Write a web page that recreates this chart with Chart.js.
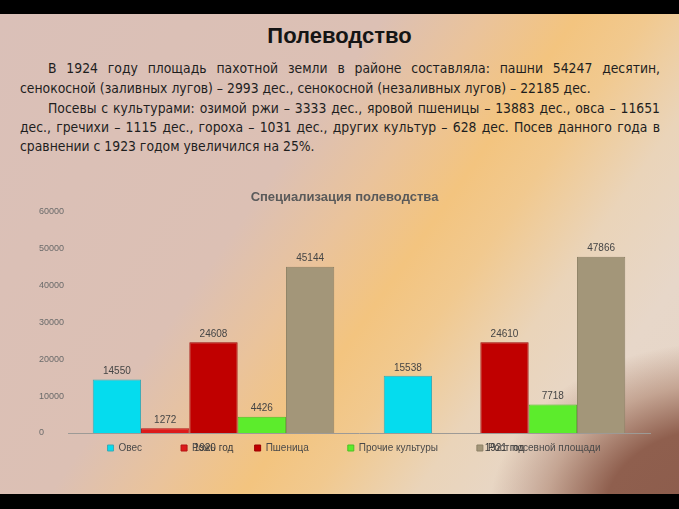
<!DOCTYPE html>
<html lang="ru">
<head>
<meta charset="utf-8">
<title>Полеводство</title>
<script src="https://cdn.jsdelivr.net/npm/chart.js@4.4.1/dist/chart.umd.min.js"></script>
<style>
  html, body { margin: 0; padding: 0; }
  body { width: 679px; height: 509px; overflow: hidden; background: #000; position: relative; }
  .slide {
    position: absolute; left: 0; top: 14px; width: 679px; height: 480px; overflow: hidden;
    background:
      radial-gradient(ellipse 350px 260px at 720px 500px, rgba(140, 92, 76, 1) 0%, rgba(143, 95, 78, 1) 33%, rgba(178, 138, 118, 0.65) 50%, rgba(222, 202, 188, 0) 66%),
      linear-gradient(125deg, #dac0b8 0%, #dcc0b4 38%, #eac39b 48%, #f3c47f 57%, #f1c98f 64%, #ead4b9 74%, #e7d7c9 85%, #e5d5c8 100%);
  }
  h1 {
    position: absolute; left: 0; width: 679px; margin: 0;
    text-align: center; font: bold 22px "Liberation Sans", Arial, sans-serif; color: #151515;
  }
  .line {
    position: absolute; left: 20px; width: 640px; height: 20px; line-height: 20px;
    font-family: "DejaVu Sans Condensed", "Liberation Sans Narrow", sans-serif;
    font-stretch: condensed;
    font-size: 13.8px; color: #1e1e1e; white-space: nowrap;
  }
  .just { text-align: justify; text-align-last: justify; }
  .indent { left: 48px; width: 612px; }
  #chartBox { position: absolute; left: 0; top: 185px; width: 679px; height: 309px; }
</style>
</head>
<body>
<div class="slide"></div>
<h1 style="top:23px">Полеводство</h1>
<div class="line just indent" style="top:58px">В 1924 году площадь пахотной земли в районе составляла: пашни 54247 десятин,</div>
<div class="line" style="top:78px">сенокосной (заливных лугов) – 2993 дес., сенокосной (незаливных лугов) – 22185 дес.</div>
<div class="line just indent" style="top:98px">Посевы с культурами: озимой ржи – 3333 дес., яровой пшеницы – 13883 дес., овса – 11651</div>
<div class="line just" style="top:117px">дес., гречихи – 1115 дес., гороха – 1031 дес., других культур – 628 дес. Посев данного года в</div>
<div class="line" style="top:136px">сравнении с 1923 годом увеличился на 25%.</div>

<div id="chartBox"><canvas id="fieldChart" width="679" height="309"></canvas></div>

<script>
const categories = ['1920 год', '1921 год'];
const oats = [14550, 15538];
const rye = [1272, null];
const wheat = [24608, 24610];
const otherCrops = [4426, 7718];
const areaGrowth = [45144, 47866];
const yMax = 60000;
const yStep = 10000;

// value labels above each bar
const barValues = {
    id: 'barValues',
    afterDatasetsDraw(chart) {
        const { ctx } = chart;
        ctx.save();
        ctx.font = '10px "Liberation Sans", Arial, sans-serif';
        ctx.fillStyle = '#454545';
        ctx.textAlign = 'center';
        ctx.textBaseline = 'bottom';
        chart.data.datasets.forEach((ds, i) => {
            chart.getDatasetMeta(i).data.forEach((bar, j) => {
                const v = ds.data[j];
                if (v == null) return;
                ctx.fillText(String(v), bar.x, bar.y - 3);
            });
        });
        ctx.restore();
    }
};

// the legend sits on the same row as the category names, like the original slide
const legendRow = {
    id: 'legendRow',
    afterLayout(chart) {
        const lg = chart.legend;
        const pad = lg.options.labels.padding;
        const top = chart.chartArea.bottom + 15 - pad - 5;
        lg.bottom = top + lg.height;
        lg.top = top;
        lg.left -= 5;
        lg.right -= 5;
        // x labels are clipped to the axis box, give them room again
        chart.scales.x.bottom = chart.scales.x.top + 30;
    }
};

new Chart(document.getElementById('fieldChart'), {
    type: 'bar',
    data: {
        labels: categories,
        datasets: [
            { label: 'Овес', data: oats, backgroundColor: '#05dcee', borderColor: '#3aa9b5' },
            { label: 'Рожь', data: rye, backgroundColor: '#dc1a1a', borderColor: '#b51212' },
            { label: 'Пшеница', data: wheat, backgroundColor: '#c00000', borderColor: '#9c0000' },
            { label: 'Прочие культуры', data: otherCrops, backgroundColor: '#5cec2c', borderColor: '#4cc024' },
            { label: 'Рост посевной площади', data: areaGrowth, backgroundColor: '#a39679', borderColor: '#8d8166' }
        ].map(ds => Object.assign(ds, { borderWidth: 1, barPercentage: 1, categoryPercentage: 0.83 }))
    },
    options: {
        responsive: false,
        animation: false,
        layout: { padding: { left: 39, right: 29, top: 0, bottom: 0 } },
        scales: {
            x: {
                grid: { display: false },
                border: { color: '#9d9a96' },
                ticks: { padding: 1, color: '#3a3a3a', font: { size: 10, family: '"Liberation Sans", Arial, sans-serif' } },
                afterFit: (scale) => { scale.height = 2; }
            },
            y: {
                min: 0,
                max: yMax,
                grid: { display: false },
                border: { display: false },
                ticks: {
                    stepSize: yStep,
                    crossAlign: 'far',
                    color: '#6a6a6a',
                    font: { size: 9, family: '"Liberation Sans", Arial, sans-serif' },
                    callback: (v) => String(v)
                },
                afterFit: (scale) => { scale.width = 29; }
            }
        },
        plugins: {
            title: {
                display: true,
                text: 'Специализация полеводства',
                color: '#5a5a5a',
                font: { size: 13, weight: 'bold', family: '"Liberation Sans", Arial, sans-serif' },
                padding: { top: 5, bottom: 6.4 }
            },
            legend: {
                position: 'bottom',
                fullSize: false,
                labels: {
                    boxWidth: 6,
                    boxHeight: 6,
                    padding: 39,
                    color: '#4a4a4a',
                    font: { size: 10, family: '"Liberation Sans", Arial, sans-serif' }
                }
            },
            tooltip: { enabled: false }
        }
    },
    plugins: [barValues, legendRow]
});
</script>
</body>
</html>
